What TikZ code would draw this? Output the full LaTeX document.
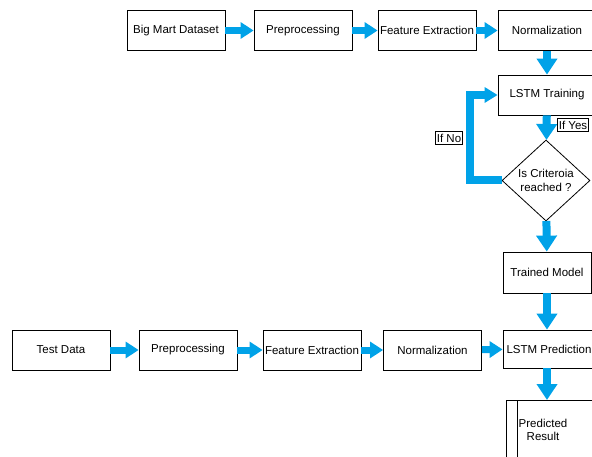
\documentclass[tikz,border=0pt]{standalone}
\usepackage{fontspec}
\setmainfont{Liberation Sans}
\usetikzlibrary{shapes.geometric, arrows.meta, positioning}
\definecolor{flowblue}{RGB}{0, 162, 232}

\tikzset{
  stepbox/.style={draw, line width=0.8pt, minimum width=98pt, minimum height=40pt, inner sep=2pt, align=center},
  decision/.style={draw, line width=0.8pt, diamond, minimum width=88pt, minimum height=81pt, inner sep=0pt, align=center},
  tag/.style={draw, line width=0.6pt, inner xsep=1.5pt, inner ysep=2.5pt},
  hflow/.style={flowblue, line width=7pt, -{Triangle[length=13pt, width=16pt]}},
  vflow/.style={flowblue, line width=8pt, -{Triangle[length=16pt, width=20pt]}},
  noflow/.style={flowblue, line width=8pt, -{Triangle[length=13pt, width=15pt]}}
}

\begin{document}
\begin{tikzpicture}[x=1pt, y=-1pt, font=\fontsize{11.5}{13.5}\selectfont]
  \useasboundingbox (0,0) rectangle (592,457);
  \clip (0,0) rectangle (592,457);

  % training pipeline
  \node[stepbox] (bigmart) at (176,30.5) {Big Mart Dataset};
  \node[stepbox] (prep1) at (303,30.5) {Preprocessing};
  \node[stepbox] (feat1) at (427,30.5) {Feature Extraction};
  \node[stepbox] (norm1) at (547,30.5) {Normalization};
  \node[stepbox] (train) at (547,95) {LSTM Training};
  \node[decision] (check) at (546,180.5) {Is Criteroia\\reached ?};
  \node[stepbox, minimum width=88pt, minimum height=41pt] (trained) at (547,272.5) {Trained Model};

  % test pipeline
  \node[stepbox] (test) at (61,350) {Test Data};
  \node[stepbox] (prep2) at (188,350) {Preprocessing};
  \node[stepbox] (feat2) at (312,350) {Feature Extraction};
  \node[stepbox] (norm2) at (432.5,350) {Normalization};
  \node[stepbox, minimum width=92pt, minimum height=38pt] (pred) at (549,349) {LSTM Prediction};

  % result
  \node[align=center, inner sep=1pt] (result) at (543,430) {Predicted\\Result};
  \draw[line width=0.8pt] (506,400) rectangle (600,470);
  \draw[line width=0.8pt] (517,400) -- (517,470);

  % arrows
  \draw[hflow] (bigmart) -- (prep1);
  \draw[hflow] (prep1) -- (feat1);
  \draw[hflow] (feat1) -- (norm1);
  \draw[vflow] (norm1) -- (train);
  \draw[vflow] (train) -- (check);
  \draw[vflow] (check) -- (trained);
  \draw[vflow] (trained) -- (trained |- pred.north);
  \draw[vflow] (pred.south -| trained) -- (547,400);
  \draw[noflow] (check.west) -- ++(-32,0) |- (train.west);

  \draw[hflow] (test) -- (prep2);
  \draw[hflow] (prep2) -- (feat2);
  \draw[hflow] (feat2) -- (norm2);
  \draw[hflow] (norm2) -- (pred);

  % labels
  \node[tag, anchor=north west] (yes) at (557,118) {If Yes};
  \node[tag, anchor=north east] (no) at (463,131) {If No};
\end{tikzpicture}
\end{document}
